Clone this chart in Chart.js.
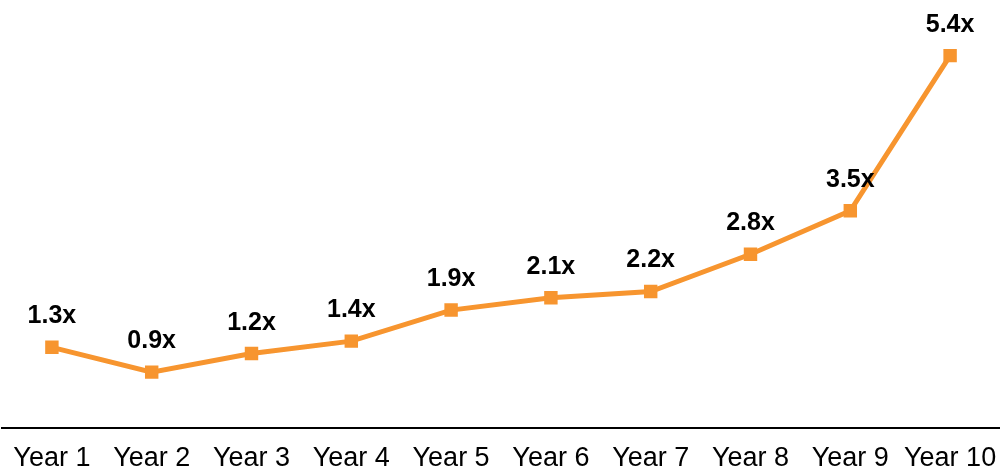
<!DOCTYPE html>
<html>
<head>
<meta charset="utf-8">
<script src="https://cdn.jsdelivr.net/npm/chart.js@4"></script>
<style>
  html, body { margin: 0; padding: 0; background: #fff; }
</style>
</head>
<body>
<canvas id="multiple-chart" width="1000" height="470"></canvas>
<script>
var years = ["Year 1","Year 2","Year 3","Year 4","Year 5","Year 6","Year 7","Year 8","Year 9","Year 10"];
// heights (the last point sits higher than its 5.4x label)
var multiples = [1.3,0.9,1.2,1.4,1.9,2.1,2.2,2.8,3.5,6.0];
var multipleLabels = ["1.3x","0.9x","1.2x","1.4x","1.9x","2.1x","2.2x","2.8x","3.5x","5.4x"];

var orange = "#F7952F";
var fontFamily = "'Liberation Sans', Arial, sans-serif";

var pointLabels = {
  id: 'pointLabels',
  afterDatasetsDraw: function(chart) {
    var ctx = chart.ctx;
    var meta = chart.getDatasetMeta(0);
    ctx.save();
    ctx.font = "bold 25px " + fontFamily;
    ctx.fillStyle = "#000";
    ctx.textAlign = "center";
    ctx.textBaseline = "alphabetic";
    meta.data.forEach(function(pt, i) {
      ctx.fillText(multipleLabels[i], pt.x, pt.y - 24);
    });
    ctx.restore();
  }
};

new Chart(document.getElementById("multiple-chart"), {
  type: 'line',
  data: {
    labels: years,
    datasets: [{
      data: multiples,
      borderColor: orange,
      backgroundColor: orange,
      borderWidth: 5,
      tension: 0,
      pointStyle: 'rect',
      pointRadius: 9.5,
      pointBorderWidth: 0,
      pointBackgroundColor: orange
    }]
  },
  options: {
    responsive: false,
    animation: false,
    layout: { autoPadding: false, padding: { top: 6, left: 2, right: 0, bottom: 0 } },
    plugins: { legend: { display: false }, tooltip: { enabled: false } },
    scales: {
      x: {
        offset: true,
        grid: { display: false, drawTicks: false },
        border: { display: true, color: "#000", width: 2 },
        ticks: {
          autoSkip: false,
          maxRotation: 0,
          padding: 17,
          color: "#000",
          font: { family: fontFamily, size: 27, lineHeight: 1 }
        },
        afterFit: function(scale) {
          scale.paddingLeft = 0;
          scale.paddingRight = 0;
          scale.height = 42;
        }
      },
      y: {
        display: false,
        min: 0,
        max: 6.8
      }
    }
  },
  plugins: [pointLabels]
});
</script>
</body>
</html>
